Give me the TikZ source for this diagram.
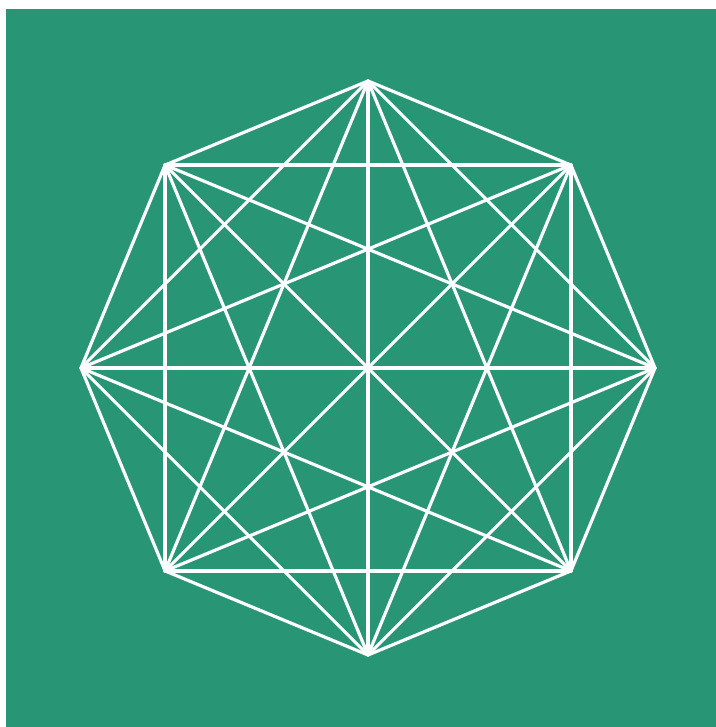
\documentclass[tikz,border=0pt]{standalone}
\usepackage{tikz}
\usetikzlibrary{calc,positioning}
\definecolor{tablegreen}{RGB}{40,150,116}

\begin{document}
\begin{tikzpicture}[x=0.01cm,y=0.01cm]
    \fill[white] (0,0) rectangle (716,727);
    \fill[tablegreen] (6,0) rectangle (716,718);
    \begin{scope}[shift={(368,359)},line width=0.9pt,white,line cap=round]
        \coordinate (1) at (90:287);
        \coordinate (2) at (45:287);
        \coordinate (3) at (0:287);
        \coordinate (4) at (-45:287);
        \coordinate (5) at (-90:287);
        \coordinate (6) at (-135:287);
        \coordinate (7) at (180:287);
        \coordinate (8) at (135:287);

        \draw (1)--(2);
        \draw (1)--(3);
        \draw (1)--(4);
        \draw (1)--(5);
        \draw (1)--(6);
        \draw (1)--(7);
        \draw (1)--(8);
        \draw (2)--(3);
        \draw (2)--(4);
        \draw (2)--(5);
        \draw (2)--(6);
        \draw (2)--(7);
        \draw (2)--(8);
        \draw (3)--(4);
        \draw (3)--(5);
        \draw (3)--(6);
        \draw (3)--(7);
        \draw (3)--(8);
        \draw (4)--(5);
        \draw (4)--(6);
        \draw (4)--(7);
        \draw (4)--(8);
        \draw (5)--(6);
        \draw (5)--(7);
        \draw (5)--(8);
        \draw (6)--(7);
        \draw (6)--(8);
        \draw (7)--(8);
    \end{scope}
\end{tikzpicture}
\end{document}
